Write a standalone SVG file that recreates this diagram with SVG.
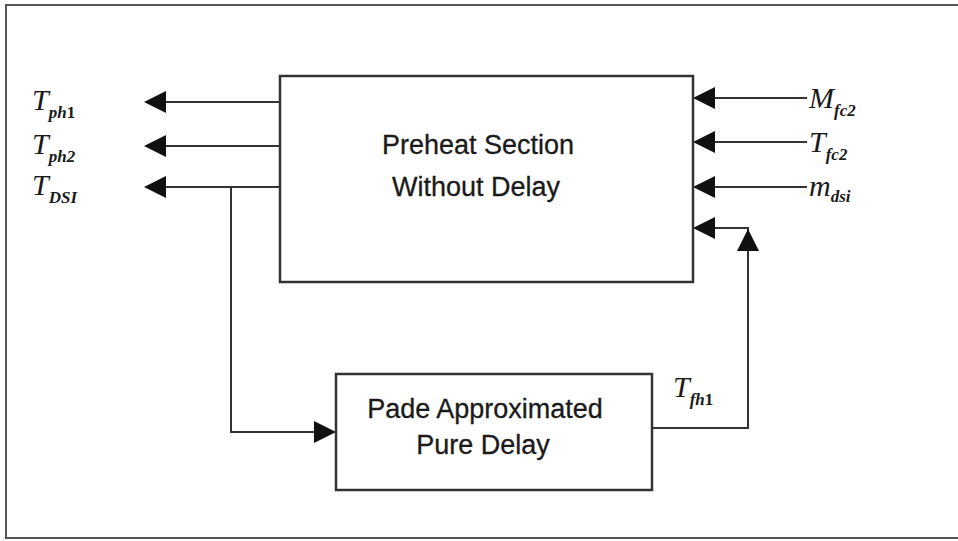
<svg xmlns="http://www.w3.org/2000/svg" width="958" height="541" viewBox="0 0 958 541">
<style>
.box{fill:#fff;stroke:#333;stroke-width:2.5}
.ln{fill:none;stroke:#333;stroke-width:2}
.ah{fill:#111}
.t{font-family:"Liberation Sans",Arial,sans-serif;font-size:27px;fill:#1a1a1a;text-anchor:middle;stroke:#1a1a1a;stroke-width:0.3}
.v{font-family:"Liberation Serif","Times New Roman",serif;font-style:italic;font-size:30px;fill:#1a1a1a}
.s{font-size:17px;font-weight:bold}
.frame{fill:none;stroke:#555;stroke-width:2}
</style>
<defs>
<polygon id="al" points="0,0 22,-11 22,11"/>
</defs>
<rect width="958" height="541" fill="#fff"/>
<path class="frame" d="M958,5 H6 V538 H958"/>
<g id="preheat">
<rect class="box" x="280" y="76" width="413" height="206"/>
<text class="t" x="478" y="154">Preheat Section</text>
<text class="t" x="476" y="196">Without Delay</text>
</g>
<g id="pade">
<rect class="box" x="336" y="374" width="316" height="116"/>
<text class="t" x="485" y="418">Pade Approximated</text>
<text class="t" x="483" y="454">Pure Delay</text>
</g>
<g id="connectors">
<line class="ln" x1="280" y1="102" x2="160" y2="102"/>
<use href="#al" class="ah" x="144" y="102"/>
<line class="ln" x1="280" y1="146" x2="160" y2="146"/>
<use href="#al" class="ah" x="144" y="146"/>
<line class="ln" x1="280" y1="187" x2="160" y2="187"/>
<use href="#al" class="ah" x="144" y="187"/>
<polyline class="ln" points="231,187 231,432 318,432"/>
<use href="#al" class="ah" transform="translate(336,432) rotate(180)"/>
<line class="ln" x1="807" y1="98" x2="708" y2="98"/>
<use href="#al" class="ah" x="693" y="98"/>
<line class="ln" x1="807" y1="142" x2="708" y2="142"/>
<use href="#al" class="ah" x="693" y="142"/>
<line class="ln" x1="807" y1="187" x2="708" y2="187"/>
<use href="#al" class="ah" x="693" y="187"/>
<polyline class="ln" points="652,428 748,428 748,228 708,228"/>
<use href="#al" class="ah" x="693" y="228"/>
<use href="#al" class="ah" transform="translate(748,229) rotate(90)"/>
</g>
<g id="labels">
<text class="v" x="32" y="110">T<tspan class="s" dy="8">ph</tspan><tspan class="s" font-style="normal">1</tspan></text>
<text class="v" x="32" y="154">T<tspan class="s" dy="8">ph2</tspan></text>
<text class="v" x="32" y="195">T<tspan class="s" dy="8">DSI</tspan></text>
<text class="v" x="809" y="108">M<tspan class="s" dy="8">fc2</tspan></text>
<text class="v" x="809" y="152">T<tspan class="s" dy="8">fc2</tspan></text>
<text class="v" x="809" y="196">m<tspan class="s" dy="6">dsi</tspan></text>
<text class="v" x="673" y="397">T<tspan class="s" dy="8">fh</tspan><tspan class="s" font-style="normal">1</tspan></text>
</g>
</svg>
